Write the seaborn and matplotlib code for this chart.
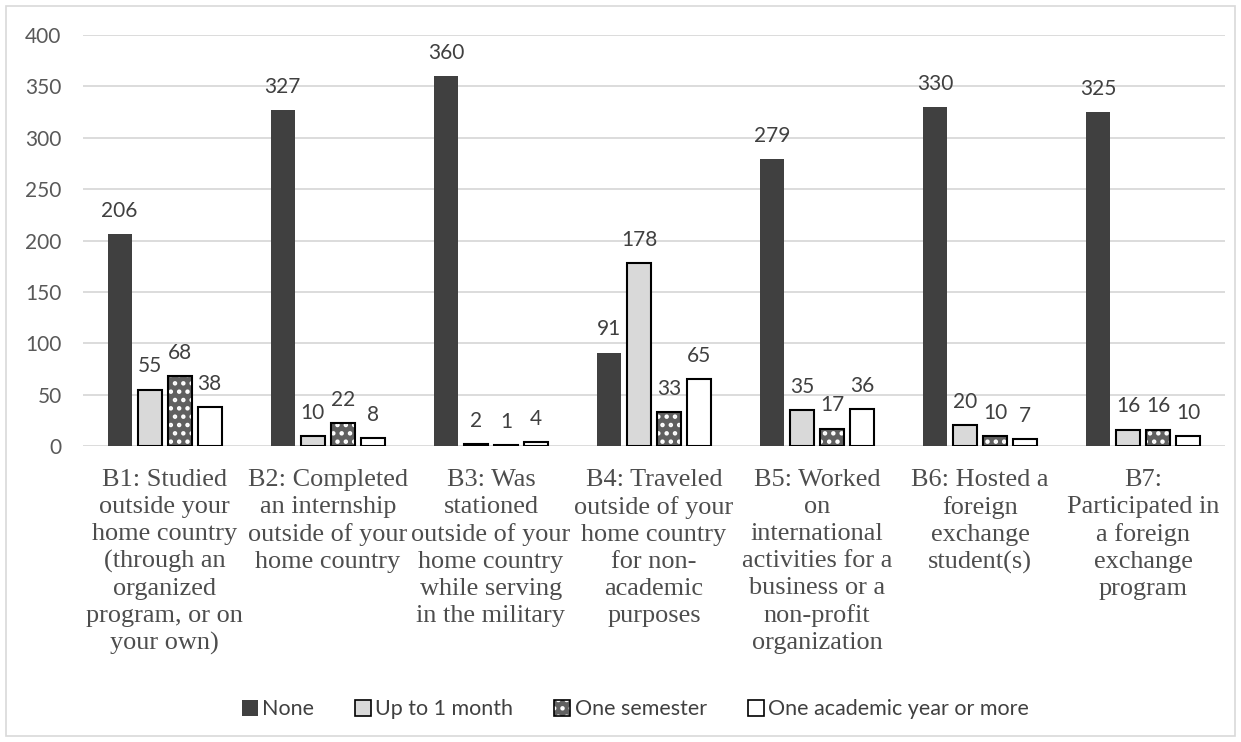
import pandas as pd
import matplotlib
matplotlib.use('Agg')
import matplotlib.pyplot as plt
import seaborn as sns
from matplotlib.patches import Rectangle

# 데이터
categories = [
    'B1: Studied\noutside your\nhome country\n(through an\norganized\nprogram, or on\nyour own)',
    'B2: Completed\nan internship\noutside of your\nhome country',
    'B3: Was\nstationed\noutside of your\nhome country\nwhile serving\nin the military',
    'B4: Traveled\noutside of your\nhome country\nfor non-\nacademic\npurposes',
    'B5: Worked\non\ninternational\nactivities for a\nbusiness or a\nnon-profit\norganization',
    'B6: Hosted a\nforeign\nexchange\nstudent(s)',
    'B7:\nParticipated in\na foreign\nexchange\nprogram',
]
series = ['None', 'Up to 1 month', 'One semester', 'One academic year or more']
none_vals = [206, 327, 360, 91, 279, 330, 325]
month_vals = [55, 10, 2, 178, 35, 20, 16]
semester_vals = [68, 22, 1, 33, 17, 10, 16]
year_vals = [38, 8, 4, 65, 36, 7, 10]

values = [none_vals, month_vals, semester_vals, year_vals]
rows = []
for s, vals in zip(series, values):
    for c, v in zip(categories, vals):
        rows.append({'cat': c, 'series': s, 'value': v})
df = pd.DataFrame(rows)

sns.set_style('white')
plt.rcParams['font.family'] = ['Lato', 'DejaVu Sans']
plt.rcParams['hatch.linewidth'] = 2.0

fig = plt.figure(figsize=(12.41, 7.42), dpi=100)
ax = fig.add_axes([0.067, 0.3989, 0.92, 0.5539])

sns.barplot(data=df, x='cat', y='value', hue='series', order=categories,
            hue_order=series, width=0.736, gap=0.2, ax=ax, legend=False)

fills = ['#404040', '#d9d9d9', '#606060', '#ffffff']
edges = ['#404040', '#000000', '#000000', '#000000']
lws = [0, 1.5, 1.5, 1.5]
for i, cont in enumerate(ax.containers):
    for p in cont.patches:
        p.set_facecolor(fills[i])
        p.set_edgecolor(edges[i])
        p.set_linewidth(lws[i])
        if i == 2:
            p.set_hatch('..')
            p._hatch_color = (1, 1, 1, 1)
    ax.bar_label(cont, padding=9.5, fontsize=15, color='#404040')

ax.set_ylim(0, 400)
ax.set_yticks(range(0, 401, 50))
ax.yaxis.grid(True, color='#d9d9d9', linewidth=1.3)
ax.set_axisbelow(True)
for sp in ax.spines.values():
    sp.set_visible(False)
ax.tick_params(axis='y', labelsize=15, labelcolor='#595959', length=0, pad=15.5)
ax.tick_params(axis='x', length=0, pad=16.5)
ax.set_xlabel('')
ax.set_ylabel('')
ax.set_xticks(range(len(categories)))
ax.set_xticklabels(categories, fontsize=18.9, family=['Liberation Serif'],
                   linespacing=1.29, va='top', color='#4d4d4d')

# 범례
handles = []
for i, s in enumerate(series):
    h = Rectangle((0, 0), 1, 1, facecolor=fills[i], edgecolor=edges[i],
                  linewidth=1.2 if i else 0, hatch='..' if i == 2 else None)
    if i == 2:
        h._hatch_color = (1, 1, 1, 1)
    handles.append(h)
fig.legend(handles, series, loc='center', bbox_to_anchor=(0.512, 0.044), ncol=4,
           frameon=False, fontsize=15.5, handlelength=0.75, handleheight=0.75,
           handletextpad=0.2, columnspacing=1.9, labelcolor='#404040')

# 바깥 테두리
fig.patches.append(Rectangle((0.005, 0.008), 0.99, 0.984, transform=fig.transFigure,
                             fill=False, edgecolor='#d9d9d9', linewidth=1.2))

fig.savefig('out.png', dpi=100)
